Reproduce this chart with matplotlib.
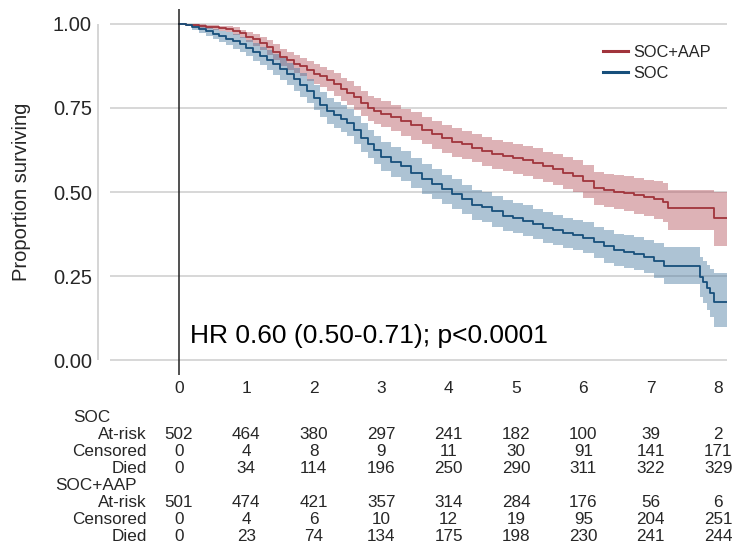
import numpy as np
import matplotlib.pyplot as plt
from matplotlib.transforms import blended_transform_factory

plt.rcParams['font.family'] = ['Liberation Sans', 'DejaVu Sans']

# SOC arm: Kaplan-Meier steps (years, proportion surviving, 95% CI)
soc_t = [0, 0.1, 0.2, 0.3, 0.4, 0.5, 0.6, 0.7, 0.8, 0.9, 1.0, 1.1, 1.2, 1.3, 1.4,
         1.5, 1.6, 1.7, 1.8, 1.9, 2.0, 2.1, 2.2, 2.3, 2.4, 2.5, 2.6, 2.7, 2.8, 2.9,
         3.0, 3.15, 3.3, 3.45, 3.6, 3.75, 3.9, 4.05, 4.2, 4.35, 4.5, 4.65, 4.8, 4.95,
         5.1, 5.25, 5.4, 5.55, 5.7, 5.85, 6.0, 6.15, 6.3, 6.45, 6.6, 6.75, 6.9, 7.05,
         7.2, 7.73, 7.78, 7.83, 7.88, 7.93, 8.13]
soc_s = [1.0, .998, .990, .985, .978, .970, .963, .956, .948, .940, .928, .916, .905, .893, .880,
         .866, .851, .836, .818, .800, .780, .760, .742, .728, .718, .706, .685, .662, .642, .625,
         .605, .590, .577, .557, .538, .523, .508, .494, .478, .462, .455, .442, .430, .423,
         .415, .405, .394, .386, .378, .372, .364, .350, .338, .327, .322, .316, .308, .296,
         .280, .247, .232, .215, .200, .173, .173]
soc_lo = [1.0, .994, .981, .974, .965, .955, .946, .937, .927, .918, .904, .890, .877, .864, .849,
          .834, .818, .802, .783, .764, .743, .722, .703, .689, .678, .666, .644, .620, .600, .582,
          .562, .546, .533, .513, .494, .479, .464, .450, .434, .418, .410, .397, .385, .378,
          .370, .360, .349, .341, .332, .326, .317, .303, .290, .279, .273, .267, .258, .245,
          .225, .188, .170, .150, .128, .098, .098]
soc_hi = [1.0, 1.0, .999, .996, .991, .985, .980, .975, .969, .962, .952, .942, .933, .922, .911,
          .898, .884, .870, .853, .836, .817, .798, .781, .767, .758, .746, .726, .704, .684, .668,
          .648, .634, .621, .601, .582, .567, .552, .538, .522, .506, .500, .487, .475, .468,
          .460, .450, .439, .431, .424, .418, .411, .397, .386, .376, .371, .366, .358, .348,
          .335, .307, .296, .283, .272, .258, .258]

# SOC+AAP arm
aap_t = [0, 0.1, 0.2, 0.3, 0.4, 0.5, 0.6, 0.7, 0.8, 0.9, 1.0, 1.1, 1.2, 1.3, 1.4,
         1.5, 1.6, 1.7, 1.8, 1.9, 2.0, 2.1, 2.2, 2.3, 2.4, 2.5, 2.6, 2.7, 2.8, 2.9,
         3.0, 3.15, 3.3, 3.45, 3.6, 3.75, 3.9, 4.05, 4.2, 4.35, 4.5, 4.65, 4.8, 4.95,
         5.1, 5.25, 5.4, 5.55, 5.7, 5.85, 6.0, 6.15, 6.3, 6.45, 6.6, 6.75, 6.9, 7.05,
         7.18, 7.26, 7.93, 8.13]
aap_s = [1.0, .998, .996, .994, .992, .990, .988, .986, .980, .972, .962, .954, .944, .932, .918,
         .902, .892, .882, .874, .862, .852, .844, .834, .822, .808, .796, .782, .766, .750, .742,
         .733, .722, .710, .698, .685, .672, .660, .649, .642, .632, .622, .614, .607, .600,
         .595, .586, .576, .568, .558, .548, .532, .512, .505, .500, .496, .490, .484, .478,
         .470, .452, .423, .423]
aap_lo = [1.0, .994, .990, .987, .984, .981, .978, .976, .968, .957, .945, .935, .923, .909, .893,
          .875, .864, .853, .844, .831, .820, .811, .800, .787, .772, .759, .744, .727, .710, .702,
          .693, .681, .668, .656, .642, .629, .617, .605, .598, .588, .578, .569, .562, .555,
          .549, .540, .529, .521, .510, .500, .483, .462, .454, .448, .443, .436, .429, .421,
          .410, .387, .339, .339]
aap_hi = [1.0, 1.0, 1.0, .999, .998, .996, .995, .994, .990, .983, .976, .970, .961, .951, .939,
          .925, .916, .907, .900, .889, .880, .873, .864, .853, .840, .829, .816, .801, .786, .779,
          .770, .760, .748, .737, .724, .712, .700, .689, .683, .673, .664, .656, .649, .643,
          .638, .630, .620, .612, .603, .594, .579, .560, .554, .550, .547, .542, .537, .532,
          .526, .506, .500, .500]

# numbers at risk table
years = [0, 1, 2, 3, 4, 5, 6, 7, 8]
soc_at_risk = [502, 464, 380, 297, 241, 182, 100, 39, 2]
soc_censored = [0, 4, 8, 9, 11, 30, 91, 141, 171]
soc_died = [0, 34, 114, 196, 250, 290, 311, 322, 329]
aap_at_risk = [501, 474, 421, 357, 314, 284, 176, 56, 6]
aap_censored = [0, 4, 6, 10, 12, 19, 95, 204, 251]
aap_died = [0, 23, 74, 134, 175, 198, 230, 241, 244]

W, H = 733, 546
red_line = '#a1343c'
blue_line = '#174f7b'
red_fill = '#b5545e'
blue_fill = '#4a7aa0'
txt_col = '#262626'

fig = plt.figure(figsize=(W / 100, H / 100), dpi=100)
# axes placed in pixel coordinates (left, top, right, bottom)
ax = fig.add_axes([98 / W, 1 - 375 / H, (727 - 98) / W, (375 - 9) / H])
ax.set_xlim(-1.20, 8.13)
ax.set_ylim(-0.0446, 1.0446)
for sp in ax.spines.values():
    sp.set_visible(False)

# grid, y axis line, black line at time 0
ax.hlines([0, 0.25, 0.5, 0.75, 1.0], -1.02, 8.13, color='#cdcdcd', lw=1.1, zorder=0)
ax.vlines(-1.20, 0, 1, color='#d2d2d2', lw=1.3, clip_on=False)
ax.axvline(0, color='#222222', lw=1.1, zorder=5)

# confidence bands and curves
ax.fill_between(aap_t, aap_lo, aap_hi, step='post', color=red_fill, alpha=0.45, lw=0, zorder=1)
ax.fill_between(soc_t, soc_lo, soc_hi, step='post', color=blue_fill, alpha=0.45, lw=0, zorder=1)
l_aap, = ax.plot(aap_t, aap_s, drawstyle='steps-post', color=red_line, lw=1.3, zorder=3)
l_soc, = ax.plot(soc_t, soc_s, drawstyle='steps-post', color=blue_line, lw=1.3, zorder=3)

ax.set_yticks([0, 0.25, 0.5, 0.75, 1.0])
ax.set_yticklabels([f"{v:.2f}" for v in [0, 0.25, 0.5, 0.75, 1.0]])
ax.set_xticks(years)
ax.tick_params(axis='y', length=0, pad=4.5, labelsize=14.5, labelcolor=txt_col)
ax.tick_params(axis='x', length=0, pad=4, labelsize=12.5, labelcolor=txt_col)

fig.text(22 / W, 1 - 192 / H, "Proportion surviving", rotation=90, ha='center', va='center',
         fontsize=14.5, color=txt_col)

leg = ax.legend(handles=[l_aap, l_soc], labels=["SOC+AAP", "SOC"], loc='upper left',
                bbox_to_anchor=(603 / W, 1 - 45 / H), bbox_transform=fig.transFigure,
                frameon=False, fontsize=11.8, handlelength=1.5, handletextpad=0.35,
                labelspacing=0.35, borderpad=0, borderaxespad=0)
for line in leg.get_lines():
    line.set_linewidth(2.2)
for t in leg.get_texts():
    t.set_color(txt_col)

fig.text(190 / W, 1 - 343 / H, "HR 0.60 (0.50-0.71); p<0.0001", fontsize=19,
         va='baseline', ha='left', color='black')

# table under the axis
trans = blended_transform_factory(ax.transData, fig.transFigure)
rows = [("SOC", None), ("At-risk", soc_at_risk), ("Censored", soc_censored), ("Died", soc_died),
        ("SOC+AAP", None), ("At-risk", aap_at_risk), ("Censored", aap_censored), ("Died", aap_died)]
for i, (name, vals) in enumerate(rows):
    y = 1 - (417 + 17.1 * i) / H
    if vals is None:
        x0 = 73 if name == "SOC" else 55
        fig.text(x0 / W, y, name, ha='left', va='center', fontsize=12.3, color=txt_col)
    else:
        fig.text(147 / W, y, name, ha='right', va='center', fontsize=12.3, color=txt_col)
        for yr, v in zip(years, vals):
            ax.text(yr, y, str(v), transform=trans, ha='center', va='center',
                    fontsize=12.3, color=txt_col)

fig.savefig('out.png', dpi=100)
